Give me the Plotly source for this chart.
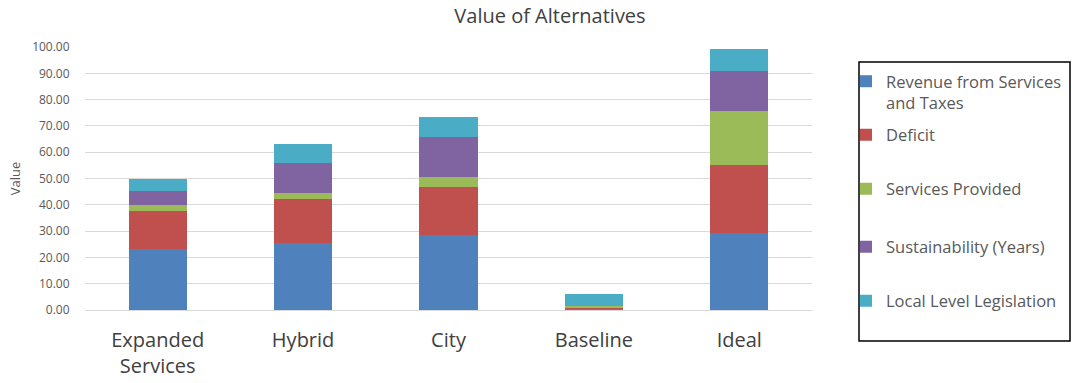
import plotly.graph_objects as go

categories = ["Expanded<br>Services", "Hybrid", "City", "Baseline", "Ideal"]
series_names = ["Revenue from Services<br>and Taxes", "Deficit", "Services Provided",
                "Sustainability (Years)", "Local Level Legislation"]
revenue = [23.1, 25.4, 28.4, 0.2, 29.3]
deficit = [14.5, 16.7, 18.3, 0.8, 25.9]
services = [2.2, 2.3, 3.8, 0.6, 20.6]
sustainability = [5.4, 11.4, 15.2, 0.0, 15.2]
legislation = [4.5, 7.2, 7.6, 4.5, 8.4]
colors = ["#4F81BD", "#C0504D", "#9BBB59", "#8064A2", "#4BACC6"]
y_ticks = [0, 10, 20, 30, 40, 50, 60, 70, 80, 90, 100]

values = [revenue, deficit, services, sustainability, legislation]

FONT = "Open Sans"
GREY = "#595959"

W, H = 1072, 383
L, R, T, B = 85, 260, 47, 73
pw = W - L - R
ph = H - T - B

def px_x(x):
    return (x - L) / pw

def px_y(y):
    return (H - B - y) / ph

legend_ids = ["legend", "legend2", "legend3", "legend4", "legend5"]
legend_rows = [92, 135, 189, 247, 301]   # pixel centre of each legend entry

fig = go.Figure()
for i, (name, vals, col) in enumerate(zip(series_names, values, colors)):
    fig.add_trace(go.Bar(
        x=categories, y=vals, name=name, marker_color=col,
        marker_line_width=0, legend=legend_ids[i], showlegend=True,
    ))

legend_layout = {}
for lid, row in zip(legend_ids, legend_rows):
    legend_layout[lid] = dict(
        x=px_x(846), y=px_y(row), xanchor="left", yanchor="middle",
        valign="top", font=dict(size=16.5, color=GREY, family=FONT),
        bgcolor="rgba(0,0,0,0)", borderwidth=0, itemwidth=30, visible=True,
    )

fig.update_layout(
    width=W, height=H,
    showlegend=True,
    margin=dict(l=L, r=R, t=T, b=B, autoexpand=False),
    barmode="stack", bargap=0.6,
    plot_bgcolor="white", paper_bgcolor="white",
    font=dict(family=FONT, color=GREY),
    title=dict(text="Value of Alternatives", x=px_x(550), xanchor="center",
               xref="paper", y=1 - 16 / H, yanchor="middle",
               font=dict(size=20, color="#404040", family=FONT)),
    xaxis=dict(showgrid=False, showline=False, ticks="outside", ticklen=12,
               tickcolor="rgba(0,0,0,0)",
               tickfont=dict(size=20, color="#404040", family=FONT)),
    yaxis=dict(range=[0, 100], tickvals=y_ticks, tickformat=".2f",
               showgrid=True, gridcolor="#D9D9D9", gridwidth=1,
               zeroline=True, zerolinecolor="#D9D9D9", zerolinewidth=1,
               ticks="outside", ticklen=12, tickcolor="rgba(0,0,0,0)",
               tickfont=dict(size=12, color=GREY, family=FONT),
               title=dict(text="Value", font=dict(size=13, color=GREY, family=FONT),
                          standoff=8)),
    shapes=[dict(type="rect", xref="paper", yref="paper",
                 x0=px_x(859), x1=px_x(1070), y0=px_y(341), y1=px_y(62),
                 line=dict(color="#000000", width=1.5), fillcolor="rgba(0,0,0,0)")],
    **legend_layout,
)

fig.write_html("out.html")
